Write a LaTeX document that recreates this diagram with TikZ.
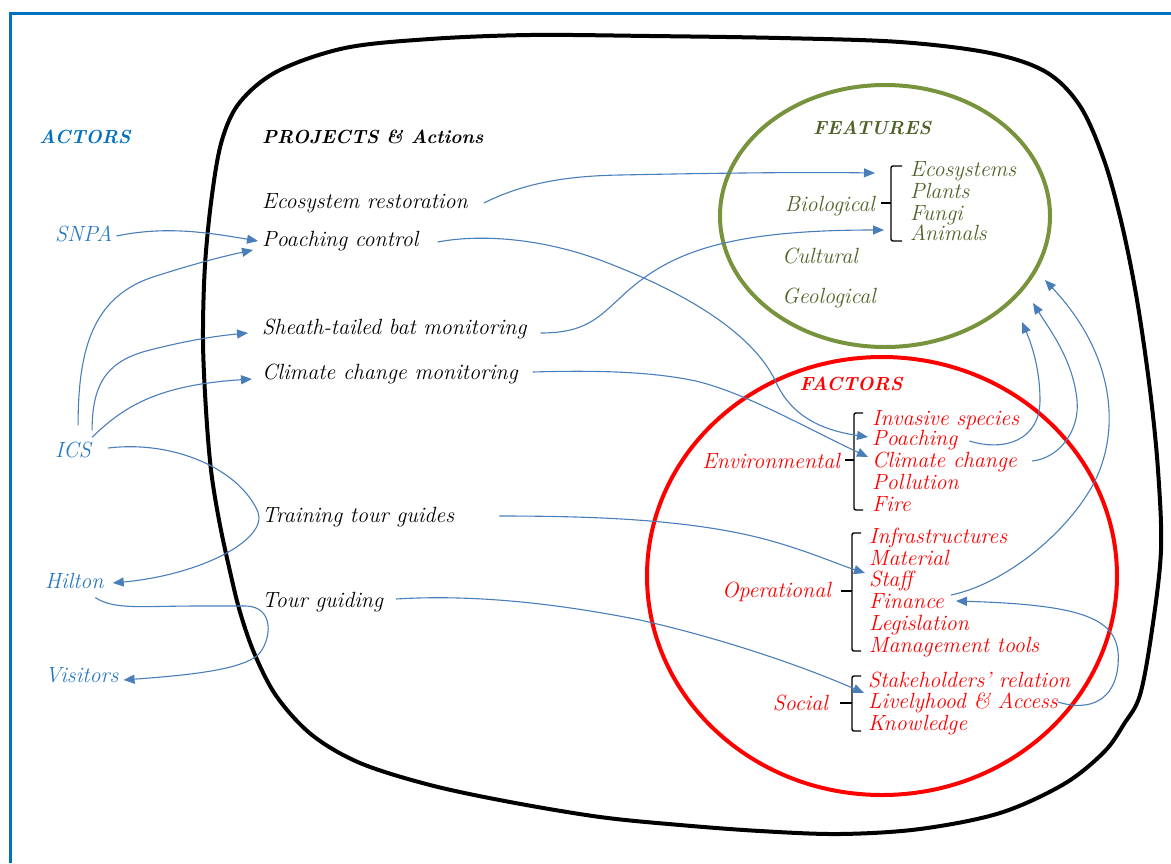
\documentclass[tikz,border=0pt]{standalone}
\usetikzlibrary{arrows.meta,shapes.geometric}
\definecolor{framecol}{RGB}{0,112,192}
\definecolor{actorhead}{RGB}{0,112,192}
\definecolor{actorcol}{RGB}{40,120,195}
\definecolor{arrowcol}{RGB}{74,126,187}
\definecolor{featdark}{RGB}{79,98,40}
\definecolor{featline}{RGB}{119,147,60}
\definecolor{factred}{RGB}{255,0,0}
\begin{document}
\begin{tikzpicture}[x=1pt,y=-1pt,
  txt/.style={font=\fontsize{22}{26}\selectfont\itshape, inner sep=4pt, text height=16pt, text depth=5pt},
  head/.style={font=\fontsize{19}{23}\selectfont\bfseries\itshape, inner sep=4pt},
  conn/.style={draw=arrowcol, line width=1.1pt, -{Triangle[length=11pt,width=9pt]}},
  bracket/.style={draw=black, line width=1.4pt, rounded corners=2pt},
  frame/.style={draw=framecol, line width=3pt},
  blob/.style={draw=black, line width=4pt}]
\useasboundingbox (0,0) rectangle (1171,863);

% outer frame
\draw[frame] (10,863) -- (10,13) -- (1171,13);

% black region
\draw[blob] plot[smooth cycle, tension=0.55] coordinates {
 (211,470) (206,410) (203,340) (205,265) (212,195) (222,140) (240,102) (278,71)
 (345,48) (430,39) (530,35) (650,36) (780,38) (900,42) (990,53) (1046,72)
 (1080,106) (1104,160) (1122,225) (1137,300) (1150,390) (1158,470) (1161,550)
 (1152,630) (1140,695) (1124,724) (1104,752) (1064,784) (1000,813) (920,829)
 (840,834) (760,831) (680,825) (600,817) (510,802) (430,785) (360,763) (312,735)
 (277,697) (255,655) (240,612) (229,567) (219,520)};

% ellipses
\node[draw=featline, line width=4pt, ellipse, minimum width=330pt, minimum height=262pt, inner sep=0pt] (featE) at (885,216) {};
\node[draw=factred, line width=4pt, ellipse, minimum width=470pt, minimum height=438pt, inner sep=0pt] (factE) at (882,576) {};

% headings
\node[head, text=actorhead] (actors) at (85,137) {ACTORS};
\node[head, text=black, anchor=west] (projects) at (258,137) {PROJECTS \& Actions};
\node[head, text=featdark] (features) at (872,128) {FEATURES};
\node[head, text=factred] (factors) at (851,384) {FACTORS};

% actors
\node[txt, text=actorcol, anchor=west] (snpa) at (51,236) {SNPA};
\node[txt, text=actorcol, anchor=west] (ics) at (51,452) {ICS};
\node[txt, text=actorcol, anchor=west] (hilton) at (41,583) {Hilton};
\node[txt, text=actorcol, anchor=west] (visitors) at (41,677) {Visitors};

% projects
\node[txt, anchor=west] (ecor) at (258,203) {Ecosystem restoration};
\node[txt, anchor=west] (poachc) at (258,241) {Poaching control};
\node[txt, anchor=west] (sheath) at (258,329) {Sheath-tailed bat monitoring};
\node[txt, anchor=west] (climm) at (258,374) {Climate change monitoring};
\node[txt, anchor=west] (train) at (258,517) {Training tour guides};
\node[txt, anchor=west] (tourg) at (258,602) {Tour guiding};

% features
\node[txt, text=featdark, anchor=east] (biol) at (879,206) {Biological};
\node[txt, text=featdark, anchor=west] (ecos) at (906,171) {Ecosystems};
\node[txt, text=featdark, anchor=west] (plants) at (906,193) {Plants};
\node[txt, text=featdark, anchor=west] (fungi) at (906,215) {Fungi};
\node[txt, text=featdark, anchor=west] (animals) at (906,235) {Animals};
\node[txt, text=featdark, anchor=west] (cultural) at (778,258) {Cultural};
\node[txt, text=featdark, anchor=west] (geological) at (778,298) {Geological};
\draw[bracket] (902,166) -- (891,166) -- (891,241) -- (902,241);
\draw[bracket] (891,203) -- (881,203);

% factors
\node[txt, text=factred, anchor=east] (environ) at (844,463) {Environmental};
\node[txt, text=factred, anchor=west] (invasive) at (868,420) {Invasive species};
\node[txt, text=factred, anchor=west] (poachf) at (868,440) {Poaching};
\node[txt, text=factred, anchor=west] (climf) at (868,462) {Climate change};
\node[txt, text=factred, anchor=west] (pollution) at (868,484) {Pollution};
\node[txt, text=factred, anchor=west] (fire) at (868,506) {Fire};
\draw[bracket] (863,413) -- (854,413) -- (854,510) -- (863,510);
\draw[bracket] (854,460) -- (845,460);

\node[txt, text=factred, anchor=east] (operational) at (835,592) {Operational};
\node[txt, text=factred, anchor=west] (infra) at (865,538) {Infrastructures};
\node[txt, text=factred, anchor=west] (material) at (865,560) {Material};
\node[txt, text=factred, anchor=west] (staff) at (865,581) {Staff};
\node[txt, text=factred, anchor=west] (finance) at (865,603) {Finance};
\node[txt, text=factred, anchor=west] (legis) at (865,625) {Legislation};
\node[txt, text=factred, anchor=west] (mgmt) at (865,647) {Management tools};
\draw[bracket] (861,533) -- (852,533) -- (852,651) -- (861,651);
\draw[bracket] (852,591) -- (841,591);

\node[txt, text=factred, anchor=east] (social) at (832,705) {Social};
\node[txt, text=factred, anchor=west] (stake) at (864,682) {Stakeholders’ relation};
\node[txt, text=factred, anchor=west] (livel) at (864,703) {Livelyhood \& Access};
\node[txt, text=factred, anchor=west] (knowledge) at (864,725) {Knowledge};
\draw[bracket] (861,676) -- (852,676) -- (852,731) -- (861,731);
\draw[bracket] (852,703) -- (840,703);

% connectors: actors -> projects
\draw[conn] (snpa.east) .. controls (165,226) and (205,232) .. (poachc.west);
\draw[conn] ([xshift=5pt,yshift=12pt]ics.north) .. controls (78,345) and (95,298) .. (150,278)
  .. controls (190,265) and (220,257) .. ([xshift=-5pt,yshift=-9pt]poachc.west);
\draw[conn] ([xshift=19pt,yshift=7pt]ics.north) .. controls (92,380) and (110,360) .. (150,350)
  .. controls (185,341) and (215,336) .. ([xshift=-10pt,yshift=-4pt]sheath.west);
\draw[conn] ([xshift=19pt]ics.north) .. controls (125,405) and (160,385) .. ([xshift=-6pt,yshift=-5pt]climm.west);
\draw[conn] ([xshift=13pt,yshift=4pt]ics.east) .. controls (175,440) and (240,470) .. (258,512)
  .. controls (268,540) and (200,575) .. ([xshift=5pt]hilton.east);
\draw[conn] ([xshift=21pt]hilton.south) .. controls (115,610) and (140,606) .. (200,606) -- (245,606)
  .. controls (275,606) and (272,640) .. (258,655) .. controls (240,670) and (190,675) .. ([xshift=1pt,yshift=-3pt]visitors.east);

% projects -> features / factors
\draw[conn] ([xshift=12pt]ecor.east) .. controls (520,185) and (560,176) .. (620,175)
  .. controls (720,173) and (800,172) .. ([xshift=-31pt,yshift=-2pt]ecos.west);
\draw[conn] ([xshift=15pt,yshift=-1pt]poachc.east) .. controls (480,234) and (540,238) .. (600,260)
  .. controls (680,290) and (750,330) .. (775,380) .. controls (790,415) and (820,430) .. ([yshift=3pt]poachf.west);
\draw[conn] ([xshift=10pt,yshift=-4pt]sheath.east) .. controls (585,333) and (598,318) .. (620,298)
  .. controls (665,255) and (720,230) .. ([xshift=-22pt,yshift=5pt]animals.west);
\draw[conn] ([xshift=11pt,yshift=2pt]climm.east) .. controls (600,370) and (650,372) .. (691,380)
  .. controls (740,390) and (800,425) .. ([yshift=5pt]climf.west);
\draw[conn] ([xshift=41pt,yshift=1pt]train.east) .. controls (600,516) and (700,520) .. (775,542)
  .. controls (810,552) and (840,565) .. ([yshift=8pt]staff.west);
\draw[conn] ([xshift=9pt,yshift=3pt]tourg.east) .. controls (460,595) and (540,600) .. (640,620)
  .. controls (720,638) and (800,665) .. ([yshift=10pt]livel.west);

% factors -> features
\draw[conn] ([xshift=8pt,yshift=-1pt]poachf.east) .. controls (1005,452) and (1040,440) .. (1040,400)
  .. controls (1040,370) and (1032,345) .. ([shift={(137,106)}]featE.center);
\draw[conn] ([xshift=11pt,yshift=1pt]climf.east) .. controls (1060,458) and (1080,430) .. (1077,400)
  .. controls (1073,360) and (1050,330) .. ([shift={(148,87)}]featE.center);
\draw[conn] ([xshift=3pt,yshift=8pt]finance.east) .. controls (1000,585) and (1060,540) .. (1090,490)
  .. controls (1120,440) and (1120,360) .. ([shift={(160,64)}]featE.center);
\draw[conn] ([xshift=-4pt,yshift=1pt]livel.east) .. controls (1090,712) and (1115,700) .. (1118,665)
  .. controls (1122,620) and (1090,605) .. ([xshift=8pt,yshift=2pt]finance.east);
\end{tikzpicture}
\end{document}
